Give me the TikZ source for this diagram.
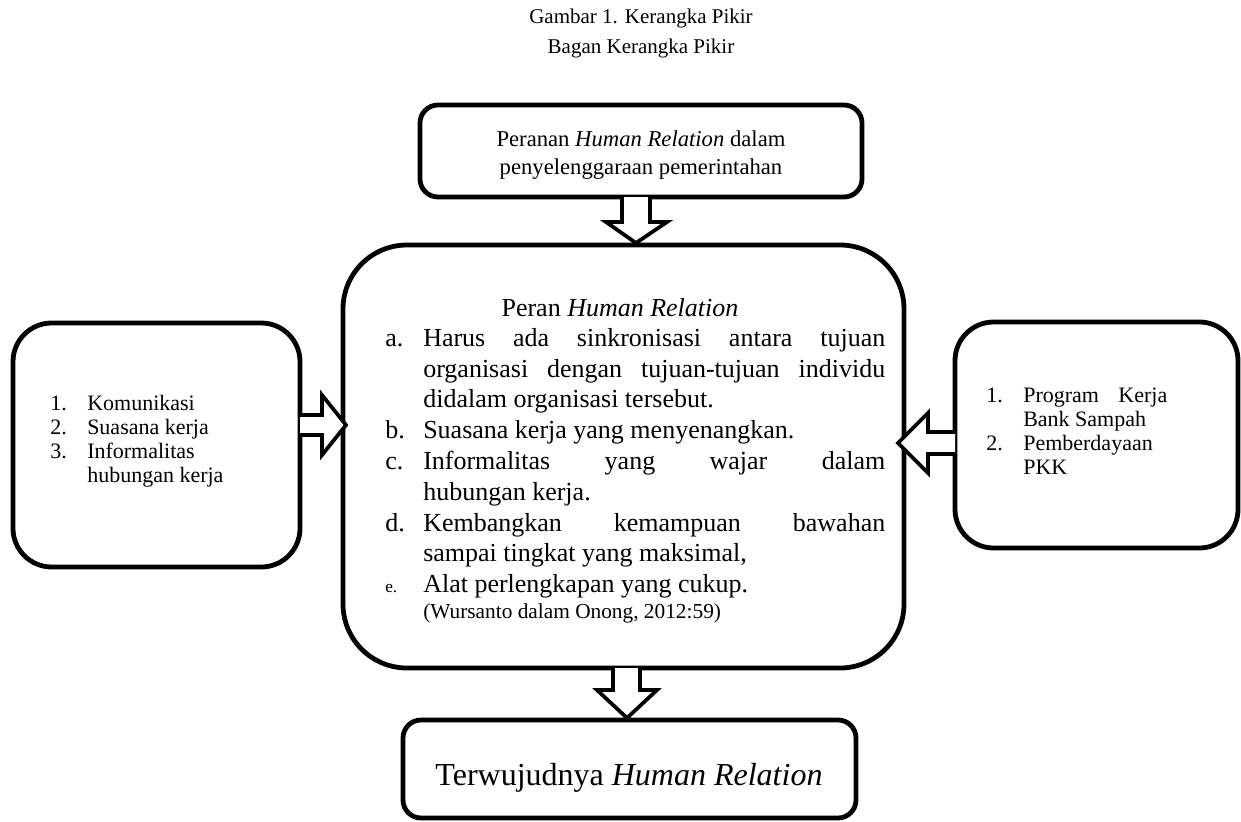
\documentclass[tikz,border=0pt]{standalone}
\usepackage{fontspec}
\setmainfont{Liberation Serif}
\usetikzlibrary{fit}
\begin{document}
\begin{tikzpicture}[x=0.75pt,y=-0.75pt,
  box/.style={draw, line width=3.6pt, inner sep=0pt, rounded corners=#1},
  arr/.style={draw, line width=2.8pt, fill=white, line join=miter},
  lbl/.style={inner sep=0pt, anchor=base west},
  mainfont/.style={font=\fontsize{19.5pt}{23.1pt}\selectfont},
  sidefont/.style={font=\fontsize{16.5pt}{19pt}\selectfont},
]
\useasboundingbox (0,0) rectangle (1241,821);

% title
\node[inner sep=0pt, align=center, font=\fontsize{15.75pt}{22.5pt}\selectfont] (title) at (641,33)
  {Gambar 1. Kerangka Pikir\\Bagan Kerangka Pikir};

% boxes
\node[box=13.5pt, fit={(420,105) (862,197)}] (top) {};
\node[box=48pt, fit={(343,245) (904,668)}] (main) {};
\node[box=29pt, fit={(13,323) (300,567)}] (left) {};
\node[box=29pt, fit={(955,322) (1238,548)}] (right) {};
\node[box=13.5pt, fit={(403,720) (856,818)}] (bottom) {};

% arrows
\draw[arr] (622,197) -- (622,222) -- (606,222) -- (636,243) -- (667,222) -- (650,222) -- (650,197);
\draw[arr] (613,668) -- (613,690) -- (597,690) -- (627,718) -- (657,690) -- (640,690) -- (640,668);
\draw[arr] (300,415) -- (322,415) -- (322,395) -- (346,425) -- (322,455) -- (322,435) -- (300,435);
\draw[arr] (955,432) -- (928,432) -- (928,413) -- (898,443) -- (928,473) -- (928,454) -- (955,454);

% top box text
\node[inner sep=0pt, align=center, font=\fontsize{17pt}{21pt}\selectfont] (toptext) at (641,155)
  {Peranan \textit{Human Relation} dalam\\penyelenggaraan pemerintahan};

% main box text
\node[mainfont, inner sep=0pt, anchor=base] (maintitle) at (620,316) {Peran \textit{Human Relation}};
\node[mainfont, inner sep=0pt, anchor=north west, text width=375pt, align=justify] (maintext) at (385,328)
{\tolerance=10000\hyphenpenalty=10000\exhyphenpenalty=10000
\hangindent=28.5pt\hangafter=1\noindent\makebox[28.5pt][l]{a.}Harus ada sinkronisasi antara tujuan\linebreak organisasi dengan tujuan-tujuan individu\linebreak didalam organisasi tersebut.\par
\hangindent=28.5pt\hangafter=1\noindent\makebox[28.5pt][l]{b.}Suasana kerja yang menyenangkan.\par
\hangindent=28.5pt\hangafter=1\noindent\makebox[28.5pt][l]{c.}Informalitas yang wajar dalam\linebreak hubungan kerja.\par
\hangindent=28.5pt\hangafter=1\noindent\makebox[28.5pt][l]{d.}Kembangkan kemampuan bawahan\linebreak sampai tingkat yang maksimal,\par
\hangindent=28.5pt\hangafter=1\noindent\makebox[28.5pt][l]{\fontsize{13pt}{15pt}\selectfont e.}Alat perlengkapan yang cukup.\par
{\fontsize{16pt}{19.5pt}\selectfont\noindent\hspace*{28.5pt}(Wursanto dalam Onong, 2012:59)\par}};

% left box text
\node[sidefont, lbl] (l1n) at (50,410) {1.};
\node[sidefont, lbl] (l1) at (87,410) {Komunikasi};
\node[sidefont, lbl] (l2n) at (50,434) {2.};
\node[sidefont, lbl] (l2) at (87,434) {Suasana kerja};
\node[sidefont, lbl] (l3n) at (50,458) {3.};
\node[sidefont, lbl] (l3) at (87,458) {Informalitas};
\node[sidefont, lbl] (l4) at (87,482) {hubungan kerja};

% right box text
\node[sidefont, lbl] (r1n) at (986,402) {1.};
\node[sidefont, lbl] (r1) at (1023,402) {\makebox[108pt][s]{Program Kerja}};
\node[sidefont, lbl] (r2) at (1023,426) {Bank Sampah};
\node[sidefont, lbl] (r3n) at (986,450) {2.};
\node[sidefont, lbl] (r3) at (1023,450) {Pemberdayaan};
\node[sidefont, lbl] (r4) at (1023,474) {PKK};

% bottom box text
\node[inner sep=0pt, anchor=base, font=\fontsize{24pt}{28pt}\selectfont] (bottext) at (629,785)
  {Terwujudnya \textit{Human Relation}};
\end{tikzpicture}
\end{document}
